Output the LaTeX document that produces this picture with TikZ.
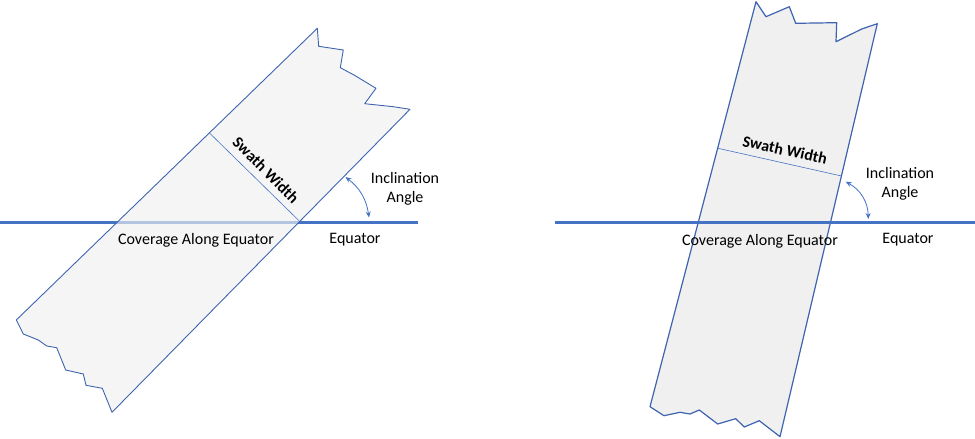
\documentclass[tikz,border=0pt]{standalone}
\usepackage{fontspec}
\setmainfont{Carlito}
\usetikzlibrary{arrows.meta}
\definecolor{eqblue}{RGB}{68,114,196}
\definecolor{edgeblue}{RGB}{62,100,175}
\definecolor{bandfill}{RGB}{240,240,240}
\tikzset{
  band/.style={draw=edgeblue, line width=0.9pt, line join=round, fill=bandfill},
  equator/.style={draw=eqblue, line width=3pt},
  swath/.style={draw=eqblue, line width=0.6pt},
  angarrow/.style={draw=eqblue, line width=0.8pt, {Stealth[length=6pt,width=5pt]}-{Stealth[length=6pt,width=5pt]}},
  lbl/.style={font=\fontsize{16}{18.5}\selectfont, text=black, inner sep=0pt, align=center},
  blbl/.style={font=\fontsize{16}{18.5}\selectfont\bfseries, text=black, inner sep=0pt}
}
\begin{document}
\begin{tikzpicture}[x=1pt,y=-1pt]
\useasboundingbox (0,0) rectangle (975,439);
% ---------- left picture ----------
\draw[equator] (0,222) -- (418,222);
\draw[band, fill opacity=0.65]
  (16.3,320) -- (317.3,28.3) -- (318.7,46.3) -- (343.3,50) -- (340.3,67.7) -- (354,75)
  -- (376,88.3) -- (364.7,103.7) -- (393.3,106.7) -- (410,109.3)
  -- (112,412.3) -- (102.3,388.3) -- (86,385.3) -- (83.3,374) -- (65.7,370)
  -- (56.7,347.7) -- (46.7,346) -- (38.3,340) -- (23.3,334) -- cycle;
\coordinate (sL1) at (209.5,133);
\coordinate (sL2) at (299.3,221);
\draw[swath] (sL1) -- (sL2);
\coordinate (aL1) at (369,217.5);
\coordinate (aL2) at (345.5,177);
\draw[angarrow] (aL1) to[bend right=22] (aL2);
\node[blbl, rotate=-45] (swL) at (266,170) {Swath Width};
\node[lbl] (incL) at (405,189) {Inclination\\Angle};
\node[lbl] (eqL) at (355,240) {Equator};
\node[lbl] (covL) at (196,240) {Coverage Along Equator};
% ---------- right picture ----------
\draw[band, line width=1.2pt]
  (650,406.7) -- (756,1.7) -- (766,16.7) -- (789.3,6.7) -- (795.7,23.3) -- (836.7,22.7)
  -- (836,41.7) -- (861.7,29) -- (877.3,23.7)
  -- (780,436.7) -- (759.3,420.7) -- (744.3,427) -- (735.7,418.7) -- (717.7,424)
  -- (699.3,410) -- (690,414) -- (680,412.3) -- (664,415.7) -- cycle;
\draw[equator] (555,222.5) -- (975,222.5);
\coordinate (sR1) at (718,148.3);
\coordinate (sR2) at (841.5,176);
\draw[swath] (sR1) -- (sR2);
\coordinate (aR1) at (868.3,219);
\coordinate (aR2) at (845.7,181.7);
\draw[angarrow] (aR1) to[bend right=30] (aR2);
\node[blbl, rotate=-12.6] (swR) at (785,150) {Swath Width};
\node[lbl] (incR) at (900,184) {Inclination\\Angle};
\node[lbl] (eqR) at (908,240) {Equator};
\node[lbl] (covR) at (760,241) {Coverage Along Equator};
\end{tikzpicture}
\end{document}
